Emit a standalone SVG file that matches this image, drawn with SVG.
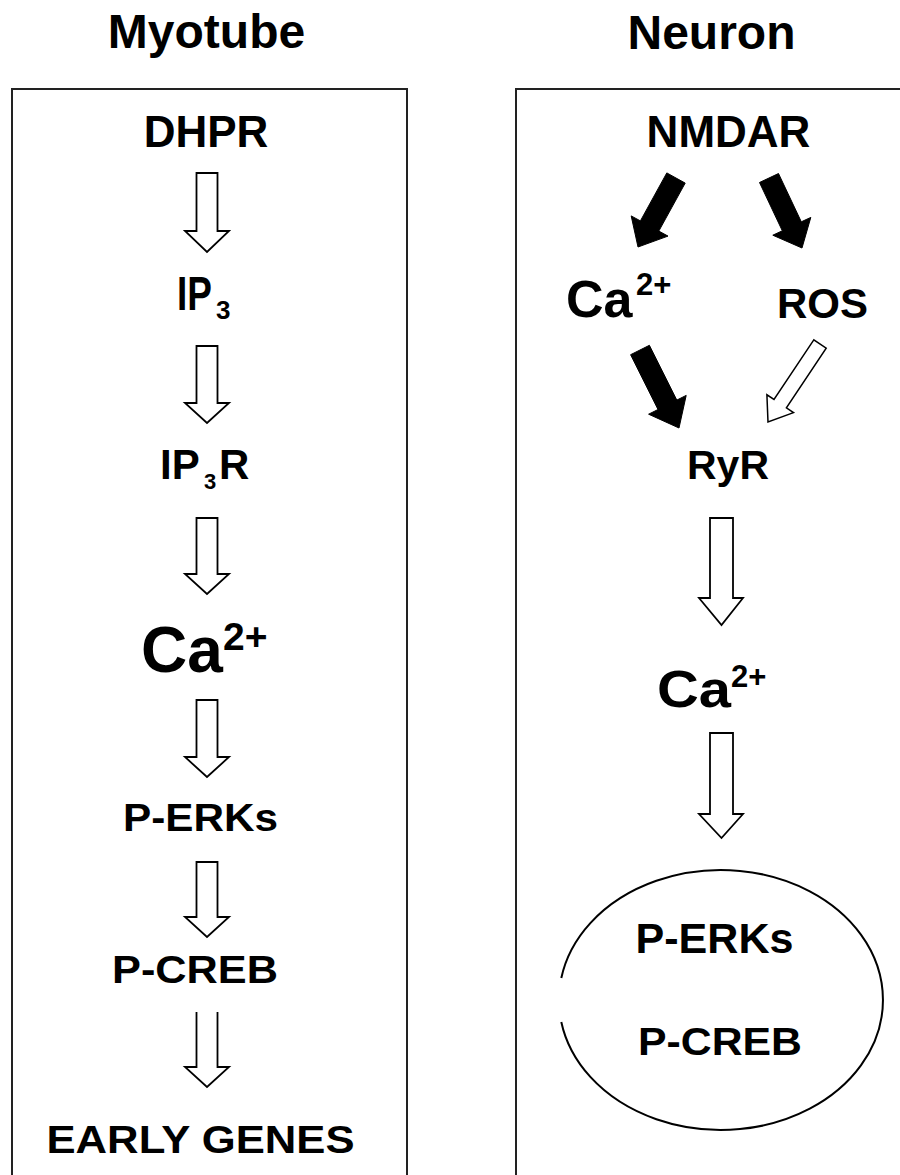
<svg xmlns="http://www.w3.org/2000/svg" width="900" height="1175" viewBox="0 0 900 1175">
<style>
.lbl{font-family:"Liberation Sans",Arial,Helvetica,sans-serif;font-weight:bold;fill:#000}
.wa{fill:#fff;stroke:#000;stroke-width:1.8;stroke-linejoin:miter}
.ba{fill:#000;stroke:#000;stroke-width:1}
.wt{fill:#fff;stroke:#000;stroke-width:1.5}
.box{fill:none;stroke:#222;stroke-width:2}
.ell{fill:none;stroke:#000;stroke-width:2}
</style>
<rect width="900" height="1175" fill="#fff"/>
<g id="title-myotube"><text class="lbl" x="206.5" y="48" font-size="48" text-anchor="middle">Myotube</text></g>
<g id="title-neuron"><text class="lbl" x="711.5" y="49" font-size="48" text-anchor="middle">Neuron</text></g>
<g id="box-myotube"><rect class="box" x="12" y="89" width="395" height="1200"/></g>
<g id="box-neuron"><rect class="box" x="516" y="89" width="500" height="1200"/></g>

<g id="dhpr"><text class="lbl" x="206" y="147" font-size="44" text-anchor="middle">DHPR</text></g>
<g id="ip3"><text class="lbl" transform="translate(177,310) scale(0.88,1.15)" x="0" y="0" font-size="42">IP</text><text class="lbl" x="216" y="319" font-size="26">3</text></g>
<g id="ip3r"><text class="lbl" x="160" y="479" font-size="42">IP</text><text class="lbl" x="204" y="489" font-size="22">3</text><text class="lbl" x="219" y="479" font-size="42">R</text></g>
<g id="ca-myotube"><text class="lbl" x="141" y="672" font-size="64">Ca</text><text class="lbl" x="223" y="650" font-size="39">2+</text></g>
<g id="perks-myotube"><text class="lbl" x="200.5" y="831" font-size="39" text-anchor="middle" textLength="155" lengthAdjust="spacingAndGlyphs">P-ERKs</text></g>
<g id="pcreb-myotube"><text class="lbl" x="195" y="983" font-size="39" text-anchor="middle" textLength="166" lengthAdjust="spacingAndGlyphs">P-CREB</text></g>
<g id="early-genes"><text class="lbl" x="200.5" y="1153" font-size="39" text-anchor="middle" textLength="308" lengthAdjust="spacingAndGlyphs">EARLY GENES</text></g>

<g id="nmdar"><text class="lbl" x="728.5" y="147" font-size="44" text-anchor="middle">NMDAR</text></g>
<g id="ca-neuron-1"><text class="lbl" x="566" y="317" font-size="52">Ca</text><text class="lbl" x="636" y="295" font-size="31">2+</text></g>
<g id="ros"><text class="lbl" x="822.5" y="318" font-size="42" text-anchor="middle">ROS</text></g>
<g id="ryr"><text class="lbl" x="728" y="479" font-size="41" text-anchor="middle">RyR</text></g>
<g id="ca-neuron-2"><text class="lbl" x="657" y="707" font-size="52" textLength="74" lengthAdjust="spacingAndGlyphs">Ca</text><text class="lbl" x="731" y="687" font-size="31">2+</text></g>
<g id="nucleus">
<path class="ell" d="M561.3,1022 A162,130 0 1 0 561.3,978"/>
<text class="lbl" x="714.5" y="953" font-size="42" text-anchor="middle" textLength="158" lengthAdjust="spacingAndGlyphs">P-ERKs</text>
<text class="lbl" x="720" y="1055" font-size="39" text-anchor="middle" textLength="164" lengthAdjust="spacingAndGlyphs">P-CREB</text>
</g>

<g id="connectors">
<path class="wa" d="M196.5,173 H217.5 V231 H229 L207,252 L185,231 H196.5 Z"/>
<path class="wa" d="M196.5,346 H217.5 V403 H229 L207,423 L185,403 H196.5 Z"/>
<path class="wa" d="M196.5,518 H217.5 V574 H229 L207,594 L185,574 H196.5 Z"/>
<path class="wa" d="M196.5,700 H217.5 V757 H229 L207,777 L185,757 H196.5 Z"/>
<path class="wa" d="M196.5,862 H217.5 V917 H229 L207,937 L185,917 H196.5 Z"/>
<path class="wa" d="M196.5,1012 V1067 H185 L207,1087 L229,1067 H217.5 V1012"/>
<path class="ba" d="M666.8,172.9 L640.4,220.9 L631.2,215.9 L638,247 L668,236.1 L658.8,231.1 L685.2,183.1 Z"/>
<path class="ba" d="M759.5,182.5 L782.3,230.8 L772.8,235.2 L802,248 L810.8,217.4 L801.3,221.8 L778.5,173.5 Z"/>
<path class="ba" d="M630.6,354.7 L658,409.5 L648.6,414.2 L679,428 L686.2,395.4 L676.8,400.1 L649.4,345.3 Z"/>
<path class="wt" d="M813.8,339.8 L774,399.5 L766.9,394.8 L768,422 L793.5,412.6 L786.4,407.9 L826.2,348.2 Z"/>
<path class="wa" d="M710,518 H733 V598 H743 L721.5,625 L699,598 H710 Z"/>
<path class="wa" d="M710,733 H733 V814 H743 L721.5,838 L699,814 H710 Z"/>
</g>
</svg>
